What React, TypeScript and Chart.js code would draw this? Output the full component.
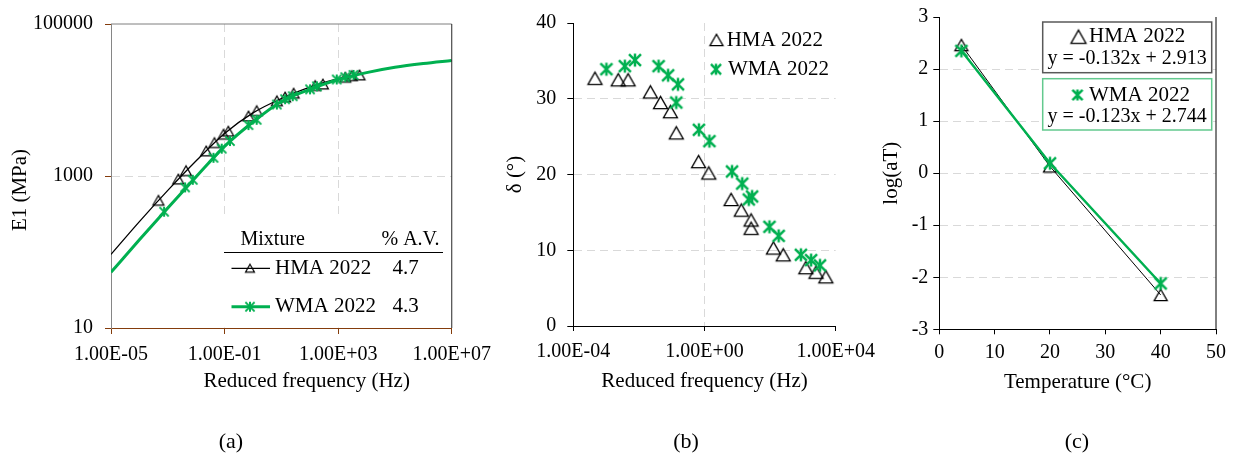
import React, { useEffect, useRef } from "react";
import { Chart, registerables } from "chart.js";

Chart.register(...registerables);

const FONT = "'Liberation Serif', 'Times New Roman', Times, serif";
Chart.defaults.font.family = FONT;
Chart.defaults.color = "#000000";

const GREEN = "#00b050";
const BLACK = "#000000";
const GRID = "#d9d9d9";
const BROWN = "#843c0c";
const AXIS_GRAY = "#868686";
const NONE = "rgba(0,0,0,0)";

// ---------------- Panel (a): master curves ----------------
const aXTicks = [1e-5, 1e-1, 1e3, 1e7];
const aXTickLabels = ["1.00E-05", "1.00E-01", "1.00E+03", "1.00E+07"];
const aYTicks = [10, 1000, 100000];
const aYTickLabels = ["10", "1000", "100000"];
const aCurveFreq = [1e-5, 1e-4, 1e-3, 1e-2, 1e-1, 1, 10, 100, 1e3, 1e4, 1e5, 1e6, 1e7];
const aHmaCurve = [93, 251, 646, 1585, 3631, 6761, 10471, 14791, 19055, 22909, 26915, 30200, 33113];
const aWmaCurve = [54, 145, 380, 977, 2455, 5129, 9550, 13804, 18621, 22909, 26915, 30200, 33113];
const aHmaFreq = [4.68e-4, 2.34e-3, 4.37e-3, 2.24e-2, 4.37e-2, 9.12e-2, 0.135, 0.692, 1.35, 6.92, 13.5, 26.9, 155, 288, 1778, 3020, 5623];
const aHmaE = [479, 912, 1175, 2138, 2754, 3548, 3890, 6166, 7244, 9772, 10965, 12303, 15488, 16218, 19953, 20893, 21380];
const aWmaFreq = [7.41e-4, 4.07e-3, 7.59e-3, 4.07e-2, 7.94e-2, 0.155, 0.692, 1.35, 6.92, 13.5, 25.1, 102, 178, 891, 1778, 3467];
const aWmaE = [339, 708, 891, 1738, 2291, 2884, 4677, 5495, 8710, 10233, 11220, 13804, 15136, 18621, 19953, 21380];
const aLegendHeader = ["Mixture", "% A.V."];
const mixtures = ["HMA 2022", "WMA 2022"];
const airVoids = ["4.7", "4.3"];

// ---------------- Panel (b): phase angle ----------------
const bXTicks = [1e-4, 1, 1e4];
const bXTickLabels = ["1.00E-04", "1.00E+00", "1.00E+04"];
const bYTickLabels = ["0", "10", "20", "30", "40"];
const bHmaFreq = [4.57e-4, 2.34e-3, 4.68e-3, 2.24e-2, 4.57e-2, 9.12e-2, 0.138, 0.661, 1.35, 6.46, 13.2, 26.3, 26.3, 126, 251, 1230, 2512, 5012];
const bHmaDelta = [32.7, 32.5, 32.5, 30.9, 29.5, 28.3, 25.5, 21.7, 20.2, 16.7, 15.3, 14.0, 12.9, 10.3, 9.4, 7.7, 7.1, 6.5];
const bWmaFreq = [1.02e-3, 3.72e-3, 7.59e-3, 3.98e-2, 7.76e-2, 0.155, 0.138, 0.676, 1.41, 6.92, 14.1, 28.2, 22.4, 95.5, 182, 871, 1778, 3311];
const bWmaDelta = [33.9, 34.3, 35.1, 34.3, 33.1, 31.9, 29.5, 25.9, 24.4, 20.4, 18.8, 17.1, 16.7, 13.1, 11.9, 9.4, 8.7, 8.0];

// ---------------- Panel (c): shift factors ----------------
const cXTickLabels = ["0", "10", "20", "30", "40", "50"];
const cYTickLabels = ["-3", "-2", "-1", "0", "1", "2", "3"];
const cTemps = [4, 20, 40];
const cHmaLogAT = [2.46, 0.13, -2.34];
const cWmaLogAT = [2.35, 0.19, -2.12];
const cEquations = ["y = -0.132x + 2.913", "y = -0.123x + 2.744"];

const captions = ["(a)", "(b)", "(c)"];

const A_LEFT = 0, A_W = 500;
const B_LEFT = 490, B_W = 400;
const C_LEFT = 855, C_W = 385;
const H = 462;

function makeTriangle(w: number, lw: number, color: string) {
  const h = w * 0.88;
  const size = Math.ceil(w + lw * 2 + 2);
  const c = document.createElement("canvas");
  c.width = size;
  c.height = size;
  const ctx = c.getContext("2d")!;
  const cx = size / 2, cy = size / 2;
  ctx.strokeStyle = color;
  ctx.lineWidth = lw;
  ctx.lineJoin = "miter";
  ctx.beginPath();
  ctx.moveTo(cx, cy - h / 2);
  ctx.lineTo(cx + w / 2, cy + h / 2);
  ctx.lineTo(cx - w / 2, cy + h / 2);
  ctx.closePath();
  ctx.stroke();
  return c;
}

function makeStar(s: number, lw: number, color: string) {
  const size = Math.ceil(s + lw * 2 + 2);
  const c = document.createElement("canvas");
  c.width = size;
  c.height = size;
  const ctx = c.getContext("2d")!;
  const cx = size / 2, cy = size / 2, r = s / 2;
  const d = r * 0.92;
  ctx.strokeStyle = color;
  ctx.lineWidth = lw;
  ctx.lineCap = "butt";
  ctx.beginPath();
  ctx.moveTo(cx, cy - r);
  ctx.lineTo(cx, cy + r);
  ctx.moveTo(cx - d, cy - d);
  ctx.lineTo(cx + d, cy + d);
  ctx.moveTo(cx + d, cy - d);
  ctx.lineTo(cx - d, cy + d);
  ctx.stroke();
  return c;
}

function drawImg(ctx: CanvasRenderingContext2D, img: HTMLCanvasElement, x: number, y: number) {
  ctx.drawImage(img, x - img.width / 2, y - img.height / 2);
}

function edgeGrid(n: number) {
  return (c: any) => (c.index > 0 && c.index < n - 1 ? GRID : NONE);
}

export default function App() {
  const refA = useRef<HTMLCanvasElement>(null);
  const refB = useRef<HTMLCanvasElement>(null);
  const refC = useRef<HTMLCanvasElement>(null);

  useEffect(() => {
    document.body.style.margin = "0";
    const triA = makeTriangle(11, 1.2, BLACK);
    const starA = makeStar(10, 2, GREEN);
    const triALeg = makeTriangle(9, 1.2, BLACK);
    const starALeg = makeStar(10, 2, GREEN);
    const triB = makeTriangle(14, 1.3, BLACK);
    const starB = makeStar(13, 2.5, GREEN);
    const triBLeg = makeTriangle(13, 1.3, BLACK);
    const starBLeg = makeStar(11, 2.5, GREEN);
    const triC = makeTriangle(13, 1.3, BLACK);
    const starC = makeStar(13, 2.5, GREEN);
    const triCLeg = makeTriangle(15, 1.3, BLACK);
    const starCLeg = makeStar(11, 2.5, GREEN);

    const common: any = {
      type: "scatter",
      options: {
        responsive: false,
        animation: false,
        devicePixelRatio: 1,
        events: [],
        plugins: { legend: { display: false }, tooltip: { enabled: false } },
      },
    };

    // ---------- Chart A ----------
    const plugA = {
      id: "decorA",
      afterDraw(chart: any) {
        const ctx: CanvasRenderingContext2D = chart.ctx;
        const a = chart.chartArea;
        ctx.save();
        // legend table
        ctx.fillStyle = "#ffffff";
        ctx.fillRect(224, 218, a.right - 1 - 224, a.bottom - 0.5 - 218);
        ctx.fillStyle = BLACK;
        ctx.textBaseline = "middle";
        ctx.textAlign = "left";
        ctx.font = `20px ${FONT}`;
        ctx.fillText(aLegendHeader[0], 240.5, 240);
        ctx.fillText(aLegendHeader[1], 381.5, 240);
        ctx.strokeStyle = BLACK;
        ctx.lineWidth = 1;
        ctx.beginPath();
        ctx.moveTo(224, 252.5);
        ctx.lineTo(443, 252.5);
        ctx.stroke();
        const rowsY = [268.3, 306.7];
        ctx.font = `21px ${FONT}`;
        rowsY.forEach((y, i) => {
          ctx.strokeStyle = i === 0 ? BLACK : GREEN;
          ctx.lineWidth = i === 0 ? 1.3 : 3;
          ctx.beginPath();
          ctx.moveTo(231.5, y);
          ctx.lineTo(270, y);
          ctx.stroke();
          drawImg(ctx, i === 0 ? triALeg : starALeg, 250, y);
          ctx.fillStyle = BLACK;
          ctx.fillText(mixtures[i], 275, y);
          ctx.fillText(airVoids[i], 392.5, y);
        });
        // plot frame (top + right)
        ctx.lineWidth = 1;
        ctx.strokeStyle = "#7f7f7f";
        ctx.beginPath();
        ctx.moveTo(a.left, a.top);
        ctx.lineTo(a.right, a.top);
        ctx.stroke();
        ctx.strokeStyle = "#262626";
        ctx.beginPath();
        ctx.moveTo(a.right, a.top);
        ctx.lineTo(a.right, a.bottom);
        ctx.stroke();
        // axis titles
        ctx.fillStyle = BLACK;
        ctx.font = `21px ${FONT}`;
        ctx.textAlign = "center";
        ctx.textBaseline = "middle";
        ctx.fillText("Reduced frequency (Hz)", 306.7, 381.7);
        ctx.translate(20, 190);
        ctx.rotate(-Math.PI / 2);
        ctx.fillText("E1 (MPa)", 0, 0);
        ctx.restore();
      },
    };

    const chartA = new Chart(refA.current!, {
      ...common,
      data: {
        datasets: [
          { label: "WMA pts", data: aWmaFreq.map((f, i) => ({ x: f, y: aWmaE[i] })), pointStyle: starA as any, pointRadius: 5, showLine: false, order: 0 },
          { label: "WMA curve", data: aCurveFreq.map((f, i) => ({ x: f, y: aWmaCurve[i] })), showLine: true, borderColor: GREEN, borderWidth: 3, pointRadius: 0, cubicInterpolationMode: "monotone", order: 1 },
          { label: "HMA pts", data: aHmaFreq.map((f, i) => ({ x: f, y: aHmaE[i] })), pointStyle: triA as any, pointRadius: 5, showLine: false, order: 2 },
          { label: "HMA curve", data: aCurveFreq.map((f, i) => ({ x: f, y: aHmaCurve[i] })), showLine: true, borderColor: BLACK, borderWidth: 1.3, pointRadius: 0, cubicInterpolationMode: "monotone", order: 3 },
        ],
      },
      options: {
        ...common.options,
        layout: { padding: { left: 0, top: 16, right: 48, bottom: 74 } },
        scales: {
          x: {
            type: "logarithmic",
            min: 1e-5,
            max: 1e7,
            afterBuildTicks: (s: any) => { s.ticks = aXTicks.map((v) => ({ value: v })); },
            afterFit: (s: any) => { s.height = 60; },
            ticks: { autoSkip: false, maxRotation: 0, minRotation: 0, padding: 9, font: { size: 20 }, color: BLACK, callback: (_v: any, i: number) => aXTickLabels[i] },
            grid: { color: edgeGrid(aXTicks.length), lineWidth: 1, tickColor: BROWN, tickLength: 6, tickWidth: 1 },
            border: { color: BROWN, width: 1, dash: [8, 5] },
          },
          y: {
            type: "logarithmic",
            min: 10,
            max: 100000,
            afterBuildTicks: (s: any) => { s.ticks = aYTicks.map((v) => ({ value: v })); },
            afterFit: (s: any) => { s.width = 111; },
            ticks: { autoSkip: false, padding: 12, font: { size: 20 }, color: BLACK, callback: (_v: any, i: number) => aYTickLabels[i] },
            grid: { color: edgeGrid(aYTicks.length), lineWidth: 1, tickColor: BROWN, tickLength: 6, tickWidth: 1 },
            border: { color: AXIS_GRAY, width: 1, dash: [8, 5] },
          },
        },
      },
      plugins: [plugA],
    } as any);

    // ---------- Chart B ----------
    const plugB = {
      id: "decorB",
      afterDraw(chart: any) {
        const ctx: CanvasRenderingContext2D = chart.ctx;
        ctx.save();
        ctx.fillStyle = BLACK;
        ctx.font = `21px ${FONT}`;
        ctx.textAlign = "left";
        ctx.textBaseline = "middle";
        drawImg(ctx, triBLeg, 716.5 - B_LEFT, 40);
        ctx.fillText(mixtures[0], 726.7 - B_LEFT, 40);
        drawImg(ctx, starBLeg, 716 - B_LEFT, 69.3);
        ctx.fillText(mixtures[1], 728 - B_LEFT, 69.3);
        ctx.restore();
      },
    };

    const chartB = new Chart(refB.current!, {
      ...common,
      data: {
        datasets: [
          { label: "WMA", data: bWmaFreq.map((f, i) => ({ x: f, y: bWmaDelta[i] })), pointStyle: starB as any, pointRadius: 6, showLine: false, order: 0 },
          { label: "HMA", data: bHmaFreq.map((f, i) => ({ x: f, y: bHmaDelta[i] })), pointStyle: triB as any, pointRadius: 6, showLine: false, order: 1 },
        ],
      },
      options: {
        ...common.options,
        layout: { padding: { left: 0, top: 15.7, right: 54.3, bottom: 67.7 } },
        scales: {
          x: {
            type: "logarithmic",
            min: 1e-4,
            max: 1e4,
            afterBuildTicks: (s: any) => { s.ticks = bXTicks.map((v) => ({ value: v })); },
            afterFit: (s: any) => { s.height = 68.3; },
            ticks: { autoSkip: false, maxRotation: 0, minRotation: 0, padding: 9, font: { size: 20 }, color: BLACK, callback: (_v: any, i: number) => bXTickLabels[i] },
            grid: { color: edgeGrid(bXTicks.length), lineWidth: 1, tickColor: BLACK, tickLength: 5, tickWidth: 1 },
            border: { color: BLACK, width: 1, dash: [8, 5] },
            title: { display: true, text: "Reduced frequency (Hz)", font: { size: 21 }, color: BLACK, padding: { top: 0, bottom: 0 } },
          },
          y: {
            type: "linear",
            min: 0,
            max: 40,
            afterFit: (s: any) => { s.width = 83.3; },
            ticks: { stepSize: 10, padding: 11, font: { size: 20 }, color: BLACK, callback: (_v: any, i: number) => bYTickLabels[i] },
            grid: { color: edgeGrid(bYTickLabels.length), lineWidth: 1, tickColor: BLACK, tickLength: 6, tickWidth: 1 },
            border: { color: BLACK, width: 1, dash: [8, 5] },
            title: { display: true, text: "δ (°)", font: { size: 21 }, color: BLACK, padding: { top: 12.4, bottom: 0 } },
          },
        },
      },
      plugins: [plugB],
    } as any);

    // ---------- Chart C ----------
    const plugC = {
      id: "decorC",
      afterDraw(chart: any) {
        const ctx: CanvasRenderingContext2D = chart.ctx;
        const a = chart.chartArea;
        ctx.save();
        ctx.strokeStyle = BLACK;
        ctx.lineWidth = 1;
        ctx.beginPath();
        ctx.moveTo(a.right, a.top);
        ctx.lineTo(a.right, a.bottom);
        ctx.stroke();
        const bx = 1042.7 - C_LEFT, bw = 169;
        const boxes = [
          { y: 22, h: 50.7, color: "#595959", sym: triCLeg, sx: 1078.5, ny: 36.7, ey: 58.3 },
          { y: 78.7, h: 51.3, color: "#63c98e", sym: starCLeg, sx: 1077.5, ny: 95, ey: 117 },
        ];
        boxes.forEach((b, i) => {
          ctx.fillStyle = "#ffffff";
          ctx.fillRect(bx, b.y, bw, b.h);
          ctx.strokeStyle = b.color;
          ctx.lineWidth = 1.5;
          ctx.strokeRect(bx, b.y, bw, b.h);
          drawImg(ctx, b.sym, b.sx - C_LEFT, b.ny);
          ctx.fillStyle = BLACK;
          ctx.textBaseline = "middle";
          ctx.textAlign = "left";
          ctx.font = `21px ${FONT}`;
          ctx.fillText(mixtures[i], 1089 - C_LEFT, b.ny);
          ctx.textAlign = "center";
          ctx.font = `20px ${FONT}`;
          ctx.fillText(cEquations[i], bx + bw / 2, b.ey);
        });
        ctx.restore();
      },
    };

    const chartC = new Chart(refC.current!, {
      ...common,
      data: {
        datasets: [
          { label: "WMA", data: cTemps.map((t, i) => ({ x: t, y: cWmaLogAT[i] })), showLine: true, borderColor: GREEN, borderWidth: 2.5, pointStyle: starC as any, pointRadius: 6, order: 0 },
          { label: "HMA", data: cTemps.map((t, i) => ({ x: t, y: cHmaLogAT[i] })), showLine: true, borderColor: BLACK, borderWidth: 1, pointStyle: triC as any, pointRadius: 6, order: 1 },
        ],
      },
      options: {
        ...common.options,
        layout: { padding: { left: 0, top: 16.7, right: 24, bottom: 66.9 } },
        scales: {
          x: {
            type: "linear",
            min: 0,
            max: 50,
            afterFit: (s: any) => { s.height = 65.8; },
            ticks: { stepSize: 10, autoSkip: false, maxRotation: 0, padding: 6, font: { size: 20 }, color: BLACK, callback: (_v: any, i: number) => cXTickLabels[i] },
            grid: { color: NONE, lineWidth: 1, tickColor: BLACK, tickLength: 5, tickWidth: 1 },
            border: { color: BLACK, width: 1 },
            title: { display: true, text: "Temperature (°C)", font: { size: 21 }, color: BLACK, padding: { top: 0, bottom: 0 } },
          },
          y: {
            type: "linear",
            min: -3,
            max: 3,
            afterFit: (s: any) => { s.width = 84.3; },
            ticks: { stepSize: 1, padding: 5, font: { size: 20 }, color: BLACK, callback: (_v: any, i: number) => cYTickLabels[i] },
            grid: { color: edgeGrid(cYTickLabels.length), lineWidth: 1, tickColor: BLACK, tickLength: 6, tickWidth: 1 },
            border: { color: BLACK, width: 1, dash: [8, 5] },
            title: { display: true, text: "log(aT)", font: { size: 21 }, color: BLACK, padding: { top: 23.9, bottom: 0 } },
          },
        },
      },
      plugins: [plugC],
    } as any);

    return () => {
      chartA.destroy();
      chartB.destroy();
      chartC.destroy();
    };
  }, []);

  const capX = [231, 686, 1077];
  return (
    <div style={{ position: "fixed", left: 0, top: 0, width: 1240, height: H, background: "#ffffff", overflow: "hidden" }}>
      <canvas ref={refA} width={A_W} height={H} style={{ position: "absolute", left: A_LEFT, top: 0, width: A_W, height: H }} />
      <canvas ref={refB} width={B_W} height={H} style={{ position: "absolute", left: B_LEFT, top: 0, width: B_W, height: H }} />
      <canvas ref={refC} width={C_W} height={H} style={{ position: "absolute", left: C_LEFT, top: 0, width: C_W, height: H }} />
      {captions.map((t, i) => (
        <div
          key={t}
          style={{
            position: "absolute",
            left: capX[i] - 50,
            top: 428,
            width: 100,
            height: 26,
            lineHeight: "26px",
            textAlign: "center",
            fontFamily: FONT,
            fontSize: 22,
            color: "#000",
          }}
        >
          {t}
        </div>
      ))}
    </div>
  );
}
